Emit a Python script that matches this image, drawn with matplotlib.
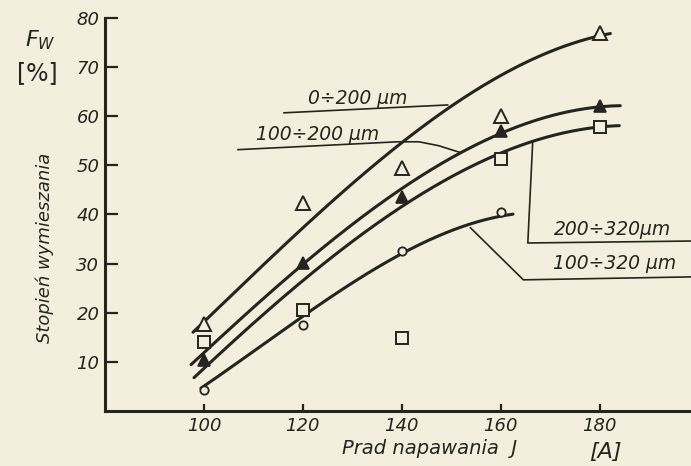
import matplotlib.pyplot as plt
import numpy as np

# measured points, prad napawania J [A] vs stopien wymieszania Fw [%]
prad = [100, 120, 140, 160, 180]
tri_open = [17.8, 42.3, 49.5, 60.0, 77.0]      # 0-200 um
tri_fill = [10.4, 30.2, 43.5, 56.9, 62.0]      # 100-200 um
square = [14.1, 20.6, 14.9, 51.2, 57.8]        # 200-320 um
circ_x = [100, 120, 140, 160]
circle = [4.3, 17.6, 32.6, 40.6]               # 100-320 um

# points
curve_a_x = [97.8, 120, 140, 150, 160, 170, 180, 182.2]
curve_a_y = [16.1, 37.0, 55.0, 62.0, 68.2, 73.0, 76.3, 77.0]
curve_b_x = [97.4, 120, 140, 160, 180, 184.2]
curve_b_y = [9.4, 30.0, 45.0, 56.7, 61.8, 62.2]
curve_c_x = [98.0, 120, 140, 160, 180, 184.0]
curve_c_y = [6.9, 26.0, 42.4, 52.0, 57.8, 58.2]
curve_d_x = [99.4, 120, 140, 153.9, 162.5]
curve_d_y = [4.7, 19.0, 32.7, 37.3, 40.4]

labels = ["0÷200 µm", "100÷200 µm", "200÷320µm", "100÷320 µm"]

ink = "#262421"
paper = "#f4efdc"

fig = plt.figure(figsize=(6.91, 4.66), dpi=100, facecolor=paper)
ax = fig.add_axes([105 / 691, 55 / 466, 586 / 691, 393 / 466])
ax.set_facecolor(paper)
ax.set_xlim(80, 198.5)
ax.set_ylim(0, 80)

# smooth curves (fit through the read curve points)
for cx, cy in [(curve_a_x, curve_a_y), (curve_b_x, curve_b_y),
               (curve_c_x, curve_c_y), (curve_d_x, curve_d_y)]:
    p = np.polyfit(cx, cy, 3)
    xs = np.linspace(cx[0], cx[-1], 200)
    ax.plot(xs, np.polyval(p, xs), color=ink, lw=2.2, solid_capstyle="round")

ax.plot(prad, tri_open, ls="none", marker="^", ms=10, mfc=paper, mec=ink, mew=1.4)
ax.plot(prad, tri_fill, ls="none", marker="^", ms=9, mfc=ink, mec=ink, mew=1.2)
ax.plot(prad, square, ls="none", marker="s", ms=8.5, mfc=paper, mec=ink, mew=1.4)
ax.plot(circ_x, circle, ls="none", marker="o", ms=6, mfc=paper, mec=ink, mew=1.3)

# leader lines and curve labels
ax.plot([116.2, 149.3], [60.7, 62.3], color=ink, lw=1.2)
ax.plot([106.9, 139.2, 143.5, 147.5, 151.9], [53.2, 54.8, 54.8, 54.0, 52.6], color=ink, lw=1.2)
ax.plot([166.5, 165.5, 198.5], [55.0, 34.2, 34.6], color=ink, lw=1.2)
ax.plot([153.9, 164.6, 198.5], [37.3, 26.7, 27.3], color=ink, lw=1.2)

lab_font = dict(fontsize=13.5, style="italic", color=ink)
ax.text(121.0, 63.6, labels[0], ha="left", va="center", **lab_font)
ax.text(110.5, 56.3, labels[1], ha="left", va="center", **lab_font)
ax.text(170.7, 36.9, labels[2], ha="left", va="center", **lab_font)
ax.text(170.5, 30.1, labels[3], ha="left", va="center", **lab_font)

# axes styling
for side in ["top", "right"]:
    ax.spines[side].set_visible(False)
for side in ["left", "bottom"]:
    ax.spines[side].set_linewidth(2.2)
    ax.spines[side].set_color(ink)

ax.set_yticks([10, 20, 30, 40, 50, 60, 70, 80])
ax.set_xticks([100, 120, 140, 160, 180])
ax.tick_params(axis="y", direction="in", length=9, width=1.6, colors=ink,
               labelsize=13, pad=4)
ax.tick_params(axis="x", direction="in", length=5, width=1.6, colors=ink,
               labelsize=13, pad=4)
for t in ax.get_xticklabels() + ax.get_yticklabels():
    t.set_style("italic")

fig.text(45 / 691, 1 - 248 / 466, "Stopień wymieszania", rotation=90,
         ha="center", va="center", fontsize=13, style="italic", color=ink)
fig.text(40 / 691, 1 - 40 / 466, r"$F_W$", ha="center", va="center",
         fontsize=16, color=ink)
fig.text(37 / 691, 1 - 73 / 466, "[%]", ha="center", va="center",
         fontsize=17, color=ink)
fig.text(430 / 691, 1 - 448 / 466, "Prad napawania  J", ha="center", va="center",
         fontsize=14, style="italic", color=ink)
fig.text(605 / 691, 1 - 452 / 466, "[A]", ha="center", va="center",
         fontsize=16, style="italic", color=ink)

fig.savefig("out.png", dpi=100, facecolor=paper)
